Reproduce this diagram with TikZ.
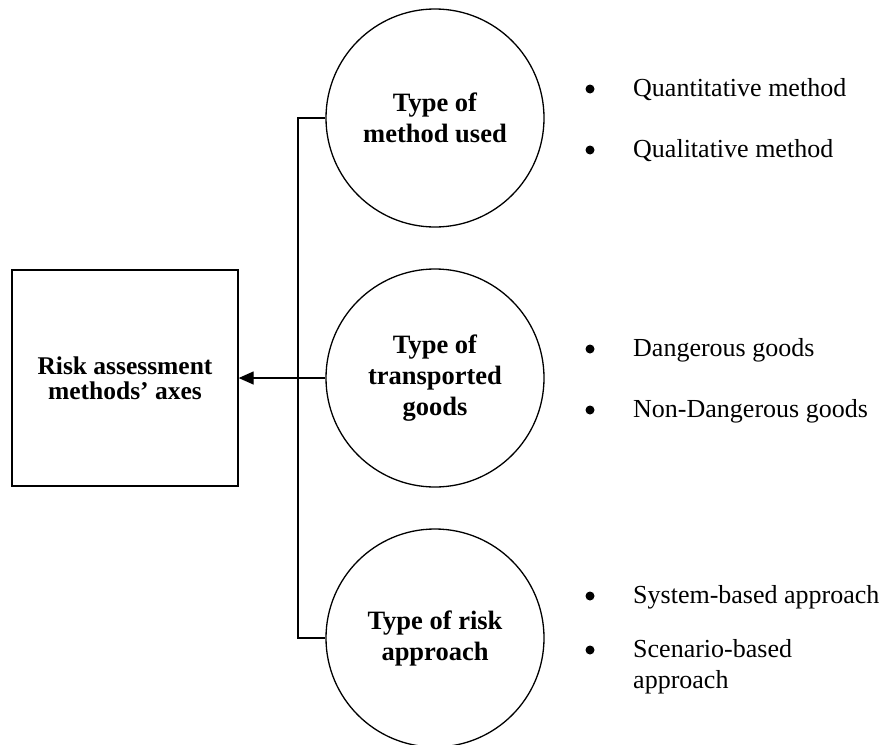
\documentclass[tikz,border=0pt]{standalone}
\usepackage{fontspec}
\setmainfont{Liberation Serif}
\usetikzlibrary{arrows.meta}

\tikzset{
  line/.style={line width=1.3pt, black},
  axisbox/.style={draw, line width=1.3pt, rectangle, minimum width=226pt, minimum height=216pt,
    inner sep=0pt, align=center, font=\fontsize{25.5}{25}\selectfont\bfseries},
  axiscircle/.style={draw, line width=1.3pt, circle, minimum size=218pt, inner sep=0pt,
    align=center, font=\fontsize{26.5}{31}\selectfont\bfseries},
  bulletdot/.style={circle, fill=black, minimum size=9pt, inner sep=0pt},
  itemtext/.style={anchor=base west, inner sep=0pt, align=left,
    font=\fontsize{26}{31}\selectfont},
}

\begin{document}
\begin{tikzpicture}[x=1pt, y=-1pt]
  \useasboundingbox (0,0) rectangle (885,744);

  % main box
  \node[axisbox] (axes) at (125,378) {Risk assessment\\methods’ axes};

  % the three classification axes
  \node[axiscircle] (method) at (435,118) {Type of\\method used};
  \node[axiscircle] (goods)  at (435,378) {Type of\\transported\\goods};
  \node[axiscircle] (risk)   at (435,638) {Type of risk\\approach};

  % bracket joining the axes
  \coordinate (jt) at (298,118);
  \coordinate (jb) at (298,638);
  \draw[line] (method.west) -- (jt) -- (jb) -- (risk.west);
  \draw[line, -{Triangle[length=15pt,width=13pt]}] (goods.west) -- (axes.east);

  % bullet lists
  \node[bulletdot] (d1) at (590,89) {};
  \node[itemtext]  (t1) at (633,96) {Quantitative method};
  \node[bulletdot] (d2) at (590,150) {};
  \node[itemtext]  (t2) at (633,157) {Qualitative method};

  \node[bulletdot] (d3) at (590,349) {};
  \node[itemtext]  (t3) at (633,356) {Dangerous goods};
  \node[bulletdot] (d4) at (590,410) {};
  \node[itemtext]  (t4) at (633,417) {Non-Dangerous goods};

  \node[bulletdot] (d5) at (590,596) {};
  \node[itemtext]  (t5) at (633,603) {System-based approach};
  \node[bulletdot] (d6) at (590,650) {};
  \node[itemtext]  (t6) at (633,688) {Scenario-based\\approach};
\end{tikzpicture}
\end{document}
